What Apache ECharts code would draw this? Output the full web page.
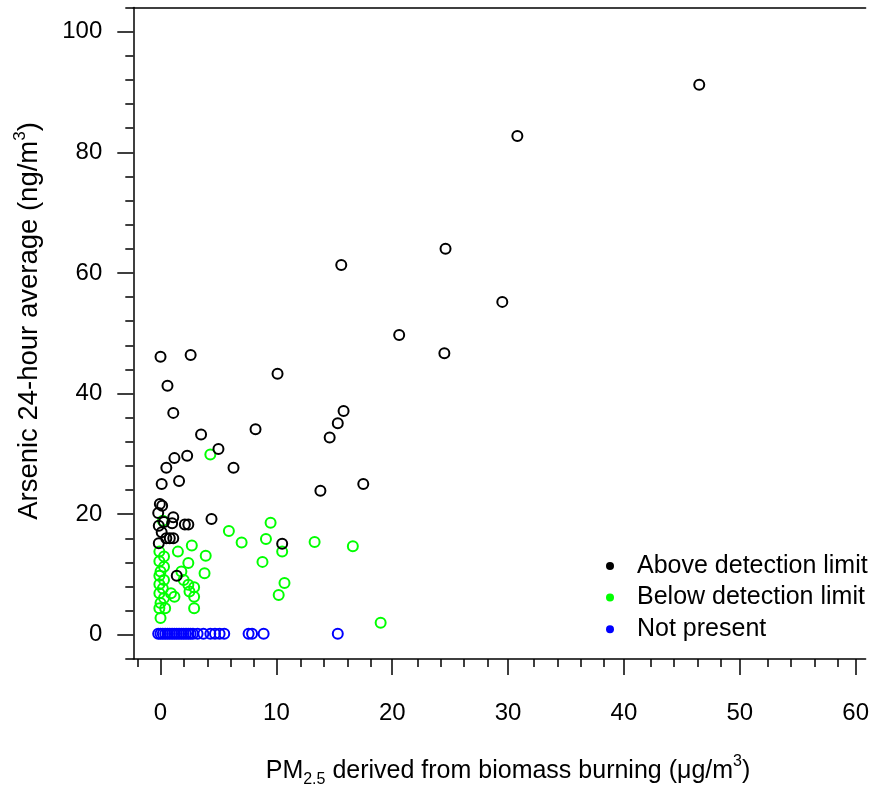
<!DOCTYPE html>
<html>
<head>
<meta charset="utf-8">
<script src="https://cdn.jsdelivr.net/npm/echarts@6/dist/echarts.min.js"></script>
<style>
html,body{margin:0;padding:0;background:#fff;}
#chart{width:872px;height:787px;}
</style>
</head>
<body>
<div id="chart"></div>
<script>
// ---- data ----
const aboveX = [46.5, 30.8, 24.6, 29.5, 15.6, 20.6, 24.5, 0.0, 2.6, 10.1, 0.6, 1.1, 15.8, 15.3, 14.6, 3.5, 8.2, 5.0, 2.3, 1.2, 0.5, 6.3, 1.6, 0.1, 13.8, 17.5, 4.4, 10.5, -0.06, 0.14, -0.2, 1.1, 0.3, 1.0, 2.1, 2.4, -0.15, 0.1, 0.5, 0.8, 1.1, -0.15, 1.4];
const aboveY = [91.2, 82.7, 64.0, 55.2, 61.3, 49.7, 46.7, 46.1, 46.4, 43.3, 41.3, 36.8, 37.1, 35.1, 32.7, 33.2, 34.1, 30.8, 29.7, 29.3, 27.7, 27.7, 25.5, 25.0, 23.9, 25.0, 19.2, 15.1, 21.7, 21.4, 20.2, 19.5, 18.7, 18.5, 18.3, 18.3, 18.1, 17.0, 16.0, 16.0, 16.0, 15.2, 9.8];

const belowX = [4.3, 9.5, 5.9, 9.1, 7.0, 10.5, 13.3, 16.6, 8.8, 10.7, 10.2, 19.0, 0.2, 1.5, 2.7, 3.9, 2.4, 3.8, 1.8, 2.0, 2.4, 2.9, 2.5, 2.9, 0.9, 1.2, 2.9, -0.1, 0.3, -0.1, 0.3, 0.0, -0.1, 0.3, -0.1, 0.2, -0.1, 0.3, 0.0, 0.4, -0.1, 0.0];
const belowY = [29.9, 18.6, 17.2, 15.9, 15.3, 13.8, 15.4, 14.7, 12.1, 8.6, 6.6, 2.0, 18.9, 13.8, 14.8, 13.1, 11.9, 10.2, 10.5, 9.1, 8.3, 7.9, 7.2, 6.3, 6.9, 6.3, 4.4, 13.8, 13.0, 12.2, 11.3, 10.5, 9.8, 9.1, 8.4, 7.7, 6.9, 6.1, 5.3, 4.4, 4.4, 2.8];

const notX = [-0.2, 0.0, 0.2, 0.4, 0.6, 0.8, 1.0, 1.2, 1.4, 1.6, 1.8, 2.0, 2.2, 2.4, 2.6, 2.8, 3.2, 3.7, 4.3, 4.7, 5.1, 5.5, 7.6, 7.9, 8.9, 15.3];
const notY = [0.2, 0.2, 0.2, 0.2, 0.2, 0.2, 0.2, 0.2, 0.2, 0.2, 0.2, 0.2, 0.2, 0.2, 0.2, 0.2, 0.2, 0.2, 0.2, 0.2, 0.2, 0.2, 0.2, 0.2, 0.2, 0.2];

const seriesNames = ['Above detection limit', 'Below detection limit', 'Not present'];
const xMajorTicks = [0, 10, 20, 30, 40, 50, 60];
const xMinorTicks = [-2, 2, 4, 6, 8, 12, 14, 16, 18, 22, 24, 26, 28, 32, 34, 36, 38, 42, 44, 46, 48, 52, 54, 56, 58];
const yMajorTicks = [0, 20, 40, 60, 80, 100];
const yMinorTicks = [-4, 4, 8, 12, 16, 24, 28, 32, 36, 44, 48, 52, 56, 64, 68, 72, 76, 84, 88, 92, 96, 104];
const xTitle = '{a|PM}{sub|2.5}{a| derived from biomass burning (\u03bcg/m}{sup|3}{a|)}';
const yTitle = '{b|Arsenic 24-hour average (ng/m}{supb|3}{b|)}';

// ---- chart ----
const FONT = '"Liberation Sans", Arial, sans-serif';
const colors = ['#000000', '#00ff00', '#0000ff'];
const X_MIN = -2.35, X_MAX = 60.86, Y_MIN = -4, Y_MAX = 104;
const lineStyle = {color: '#000', width: 1.5};
const gridBox = {left: 133.3, right: 1, top: 7.5, bottom: 128};

function zip(xs, ys) { return xs.map((x, i) => [x, ys[i]]); }
const seriesData = [zip(aboveX, aboveY), zip(belowX, belowY), zip(notX, notY)];

const chart = echarts.init(document.getElementById('chart'), null, {renderer: 'canvas'});
const titleRich = {
  a: {fontSize: 25, fontFamily: FONT, color: '#000', lineHeight: 34},
  sub: {fontSize: 16, fontFamily: FONT, color: '#000', verticalAlign: 'bottom', lineHeight: 16},
  sup: {fontSize: 16, fontFamily: FONT, color: '#000', verticalAlign: 'top', lineHeight: 16},
  b: {fontSize: 27.5, fontFamily: FONT, color: '#000', lineHeight: 34},
  supb: {fontSize: 17, fontFamily: FONT, color: '#000', verticalAlign: 'top', lineHeight: 17}
};

chart.setOption({
  animation: false,
  backgroundColor: '#fff',
  grid: [Object.assign({}, gridBox), Object.assign({}, gridBox)],
  xAxis: [
    {
      type: 'value', gridIndex: 0, position: 'bottom', min: X_MIN, max: X_MAX,
      axisLine: {show: true, onZero: false, lineStyle: lineStyle},
      axisTick: {show: true, customValues: xMajorTicks, length: 16, inside: false, lineStyle: lineStyle},
      axisLabel: {show: true, customValues: xMajorTicks, fontSize: 24, fontFamily: FONT, color: '#000', margin: 42},
      splitLine: {show: false}
    },
    {
      type: 'value', gridIndex: 0, position: 'top', min: X_MIN, max: X_MAX,
      axisLine: {show: true, onZero: false, lineStyle: lineStyle},
      axisTick: {show: false}, axisLabel: {show: false}, splitLine: {show: false}
    },
    {
      type: 'value', gridIndex: 1, position: 'bottom', min: X_MIN, max: X_MAX,
      axisLine: {show: false, onZero: false},
      axisTick: {show: true, customValues: xMinorTicks, length: 8, inside: false, lineStyle: lineStyle},
      axisLabel: {show: false}, splitLine: {show: false}
    }
  ],
  yAxis: [
    {
      type: 'value', gridIndex: 0, position: 'left', min: Y_MIN, max: Y_MAX,
      axisLine: {show: true, onZero: false, lineStyle: lineStyle},
      axisTick: {show: true, customValues: yMajorTicks, length: 16, inside: false, lineStyle: lineStyle},
      axisLabel: {show: true, customValues: yMajorTicks, fontSize: 24, fontFamily: FONT, color: '#000', margin: 31},
      splitLine: {show: false}
    },
    {
      type: 'value', gridIndex: 1, position: 'left', min: Y_MIN, max: Y_MAX,
      axisLine: {show: false, onZero: false},
      axisTick: {show: true, customValues: yMinorTicks, length: 8, inside: false, lineStyle: lineStyle},
      axisLabel: {show: false}, splitLine: {show: false}
    }
  ],
  legend: {
    orient: 'vertical', left: 606, top: 553.5, padding: 0,
    itemWidth: 8, itemHeight: 8, itemGap: 6.6,
    textStyle: {fontSize: 25, fontFamily: FONT, color: '#000', lineHeight: 25, padding: [0, 0, 0, 18]},
    data: seriesNames.map((n, i) => ({name: n, icon: 'circle', itemStyle: {color: colors[i], borderWidth: 0, opacity: 1}})),
    selectedMode: false
  },
  series: seriesNames.map((n, i) => ({
    name: n, type: 'scatter', xAxisIndex: 0, yAxisIndex: 0,
    data: seriesData[i],
    symbol: 'circle', symbolSize: 10,
    itemStyle: {color: 'rgba(0,0,0,0)', borderColor: colors[i], borderWidth: 2, opacity: 1},
    emphasis: {disabled: true},
    z: 3 - i
  })),
  graphic: [
    {
      type: 'text', x: 508, y: 771,
      style: {text: xTitle, align: 'center', verticalAlign: 'middle', rich: titleRich}
    },
    {
      type: 'text', x: 29, y: 321, rotation: Math.PI / 2,
      style: {text: yTitle, align: 'center', verticalAlign: 'middle', rich: titleRich}
    }
  ]
});
</script>
</body>
</html>
